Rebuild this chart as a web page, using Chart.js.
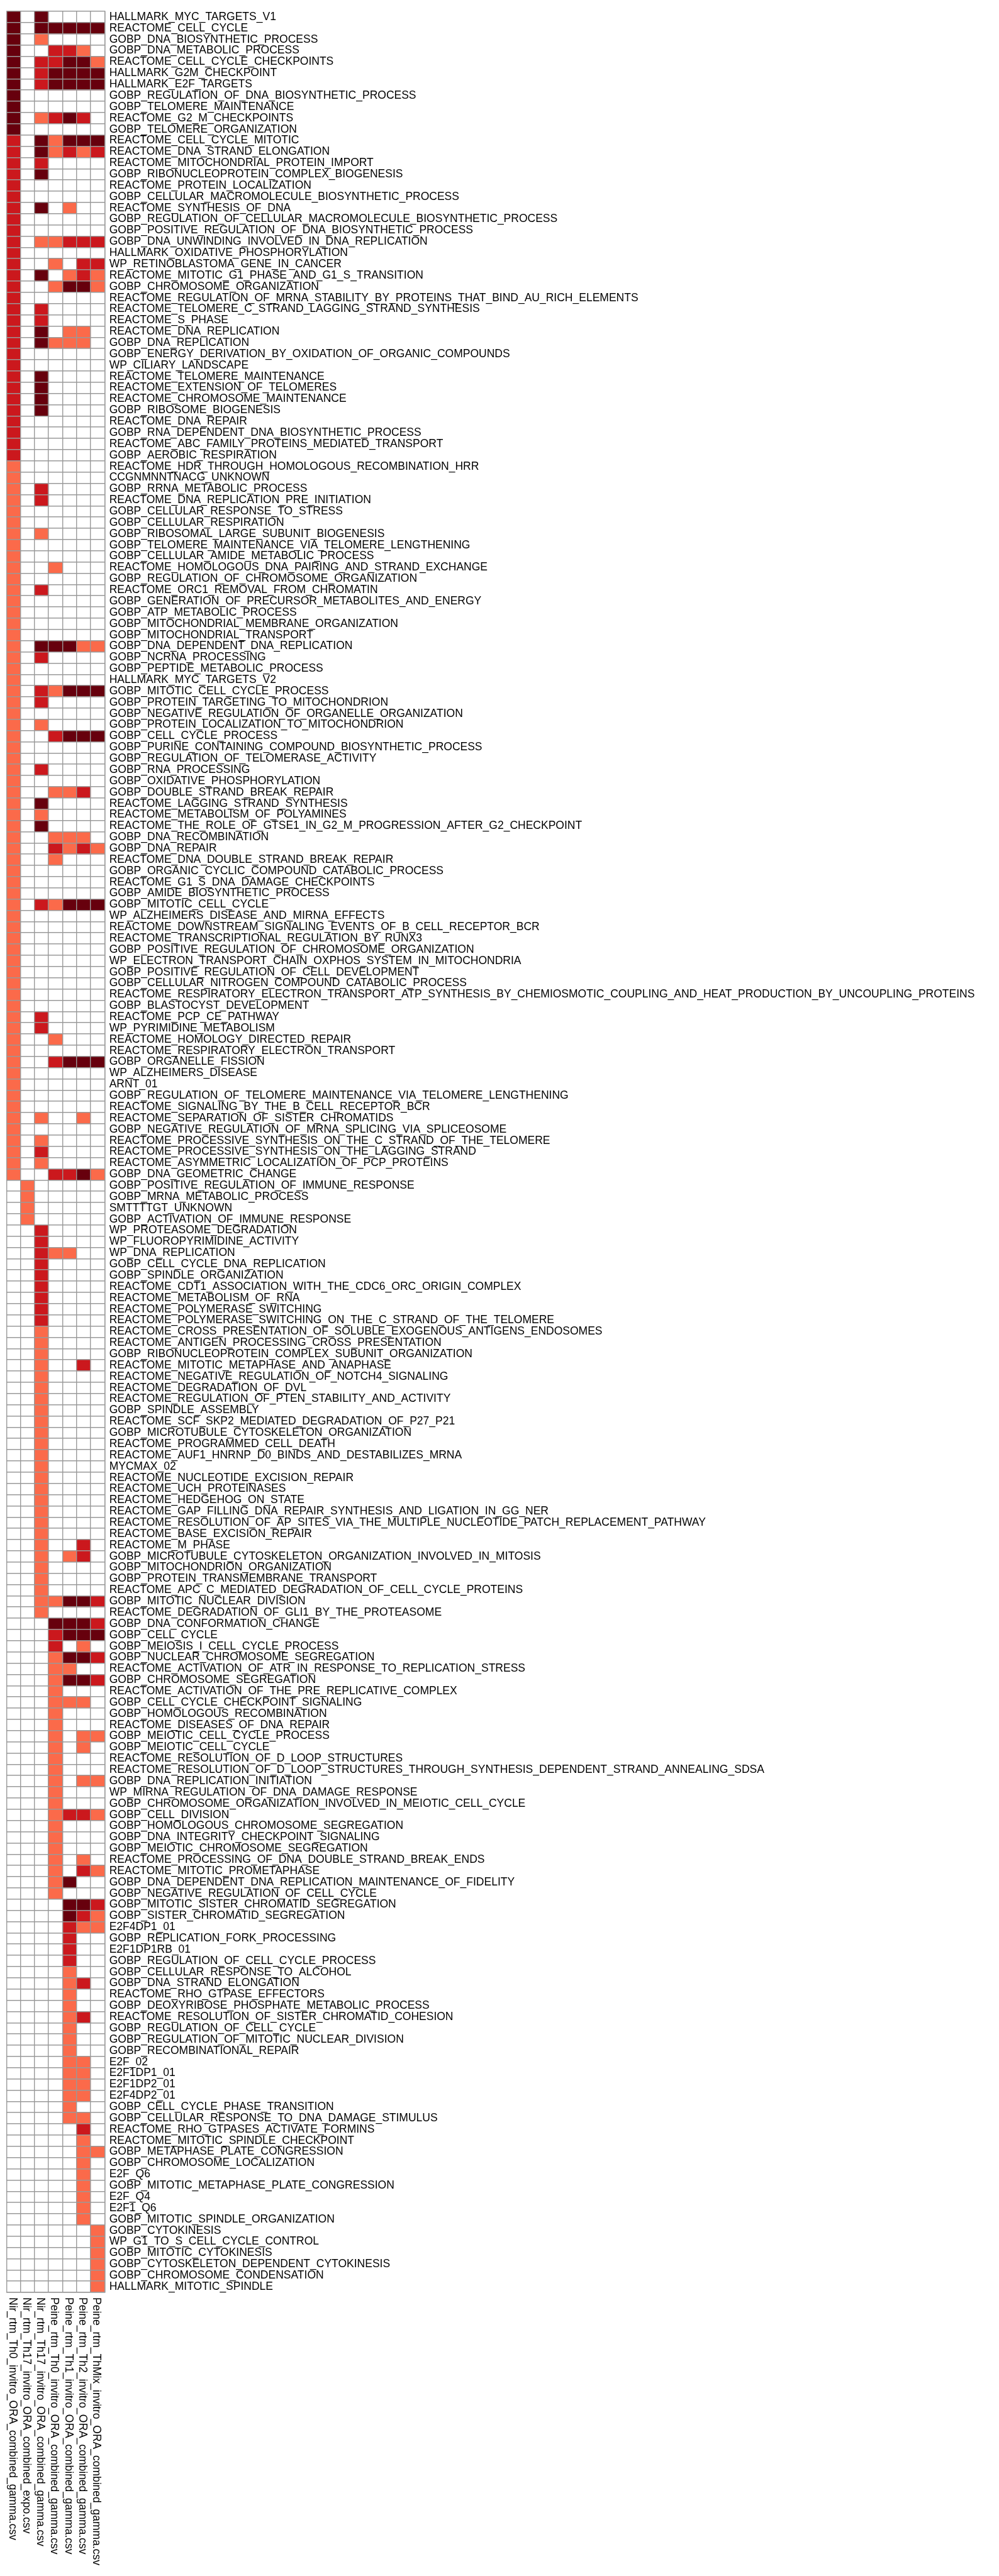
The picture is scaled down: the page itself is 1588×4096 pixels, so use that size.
<!DOCTYPE html>
<html>
<head>
<meta charset="utf-8">
<script src="https://cdn.jsdelivr.net/npm/chart.js@4.4.1/dist/chart.umd.min.js"></script>
<style>
  html, body { margin: 0; padding: 0; background: #fff; }
  canvas { display: block; }
</style>
</head>
<body>
<canvas id="heatmap" width="1588" height="4096"></canvas>
<script>
// Filas del heatmap (de arriba hacia abajo)
const pathways = [
  'HALLMARK_MYC_TARGETS_V1', 'REACTOME_CELL_CYCLE', 'GOBP_DNA_BIOSYNTHETIC_PROCESS', 'GOBP_DNA_METABOLIC_PROCESS',
  'REACTOME_CELL_CYCLE_CHECKPOINTS', 'HALLMARK_G2M_CHECKPOINT', 'HALLMARK_E2F_TARGETS', 'GOBP_REGULATION_OF_DNA_BIOSYNTHETIC_PROCESS',
  'GOBP_TELOMERE_MAINTENANCE', 'REACTOME_G2_M_CHECKPOINTS', 'GOBP_TELOMERE_ORGANIZATION', 'REACTOME_CELL_CYCLE_MITOTIC',
  'REACTOME_DNA_STRAND_ELONGATION', 'REACTOME_MITOCHONDRIAL_PROTEIN_IMPORT', 'GOBP_RIBONUCLEOPROTEIN_COMPLEX_BIOGENESIS',
  'REACTOME_PROTEIN_LOCALIZATION', 'GOBP_CELLULAR_MACROMOLECULE_BIOSYNTHETIC_PROCESS', 'REACTOME_SYNTHESIS_OF_DNA',
  'GOBP_REGULATION_OF_CELLULAR_MACROMOLECULE_BIOSYNTHETIC_PROCESS', 'GOBP_POSITIVE_REGULATION_OF_DNA_BIOSYNTHETIC_PROCESS',
  'GOBP_DNA_UNWINDING_INVOLVED_IN_DNA_REPLICATION', 'HALLMARK_OXIDATIVE_PHOSPHORYLATION', 'WP_RETINOBLASTOMA_GENE_IN_CANCER',
  'REACTOME_MITOTIC_G1_PHASE_AND_G1_S_TRANSITION', 'GOBP_CHROMOSOME_ORGANIZATION',
  'REACTOME_REGULATION_OF_MRNA_STABILITY_BY_PROTEINS_THAT_BIND_AU_RICH_ELEMENTS', 'REACTOME_TELOMERE_C_STRAND_LAGGING_STRAND_SYNTHESIS',
  'REACTOME_S_PHASE', 'REACTOME_DNA_REPLICATION', 'GOBP_DNA_REPLICATION', 'GOBP_ENERGY_DERIVATION_BY_OXIDATION_OF_ORGANIC_COMPOUNDS',
  'WP_CILIARY_LANDSCAPE', 'REACTOME_TELOMERE_MAINTENANCE', 'REACTOME_EXTENSION_OF_TELOMERES', 'REACTOME_CHROMOSOME_MAINTENANCE',
  'GOBP_RIBOSOME_BIOGENESIS', 'REACTOME_DNA_REPAIR', 'GOBP_RNA_DEPENDENT_DNA_BIOSYNTHETIC_PROCESS',
  'REACTOME_ABC_FAMILY_PROTEINS_MEDIATED_TRANSPORT', 'GOBP_AEROBIC_RESPIRATION', 'REACTOME_HDR_THROUGH_HOMOLOGOUS_RECOMBINATION_HRR',
  'CCGNMNNTNACG_UNKNOWN', 'GOBP_RRNA_METABOLIC_PROCESS', 'REACTOME_DNA_REPLICATION_PRE_INITIATION', 'GOBP_CELLULAR_RESPONSE_TO_STRESS',
  'GOBP_CELLULAR_RESPIRATION', 'GOBP_RIBOSOMAL_LARGE_SUBUNIT_BIOGENESIS', 'GOBP_TELOMERE_MAINTENANCE_VIA_TELOMERE_LENGTHENING',
  'GOBP_CELLULAR_AMIDE_METABOLIC_PROCESS', 'REACTOME_HOMOLOGOUS_DNA_PAIRING_AND_STRAND_EXCHANGE', 'GOBP_REGULATION_OF_CHROMOSOME_ORGANIZATION',
  'REACTOME_ORC1_REMOVAL_FROM_CHROMATIN', 'GOBP_GENERATION_OF_PRECURSOR_METABOLITES_AND_ENERGY', 'GOBP_ATP_METABOLIC_PROCESS',
  'GOBP_MITOCHONDRIAL_MEMBRANE_ORGANIZATION', 'GOBP_MITOCHONDRIAL_TRANSPORT', 'GOBP_DNA_DEPENDENT_DNA_REPLICATION', 'GOBP_NCRNA_PROCESSING',
  'GOBP_PEPTIDE_METABOLIC_PROCESS', 'HALLMARK_MYC_TARGETS_V2', 'GOBP_MITOTIC_CELL_CYCLE_PROCESS', 'GOBP_PROTEIN_TARGETING_TO_MITOCHONDRION',
  'GOBP_NEGATIVE_REGULATION_OF_ORGANELLE_ORGANIZATION', 'GOBP_PROTEIN_LOCALIZATION_TO_MITOCHONDRION', 'GOBP_CELL_CYCLE_PROCESS',
  'GOBP_PURINE_CONTAINING_COMPOUND_BIOSYNTHETIC_PROCESS', 'GOBP_REGULATION_OF_TELOMERASE_ACTIVITY', 'GOBP_RNA_PROCESSING',
  'GOBP_OXIDATIVE_PHOSPHORYLATION', 'GOBP_DOUBLE_STRAND_BREAK_REPAIR', 'REACTOME_LAGGING_STRAND_SYNTHESIS', 'REACTOME_METABOLISM_OF_POLYAMINES',
  'REACTOME_THE_ROLE_OF_GTSE1_IN_G2_M_PROGRESSION_AFTER_G2_CHECKPOINT', 'GOBP_DNA_RECOMBINATION', 'GOBP_DNA_REPAIR',
  'REACTOME_DNA_DOUBLE_STRAND_BREAK_REPAIR', 'GOBP_ORGANIC_CYCLIC_COMPOUND_CATABOLIC_PROCESS', 'REACTOME_G1_S_DNA_DAMAGE_CHECKPOINTS',
  'GOBP_AMIDE_BIOSYNTHETIC_PROCESS', 'GOBP_MITOTIC_CELL_CYCLE', 'WP_ALZHEIMERS_DISEASE_AND_MIRNA_EFFECTS',
  'REACTOME_DOWNSTREAM_SIGNALING_EVENTS_OF_B_CELL_RECEPTOR_BCR', 'REACTOME_TRANSCRIPTIONAL_REGULATION_BY_RUNX3',
  'GOBP_POSITIVE_REGULATION_OF_CHROMOSOME_ORGANIZATION', 'WP_ELECTRON_TRANSPORT_CHAIN_OXPHOS_SYSTEM_IN_MITOCHONDRIA',
  'GOBP_POSITIVE_REGULATION_OF_CELL_DEVELOPMENT', 'GOBP_CELLULAR_NITROGEN_COMPOUND_CATABOLIC_PROCESS',
  'REACTOME_RESPIRATORY_ELECTRON_TRANSPORT_ATP_SYNTHESIS_BY_CHEMIOSMOTIC_COUPLING_AND_HEAT_PRODUCTION_BY_UNCOUPLING_PROTEINS',
  'GOBP_BLASTOCYST_DEVELOPMENT', 'REACTOME_PCP_CE_PATHWAY', 'WP_PYRIMIDINE_METABOLISM', 'REACTOME_HOMOLOGY_DIRECTED_REPAIR',
  'REACTOME_RESPIRATORY_ELECTRON_TRANSPORT', 'GOBP_ORGANELLE_FISSION', 'WP_ALZHEIMERS_DISEASE', 'ARNT_01',
  'GOBP_REGULATION_OF_TELOMERE_MAINTENANCE_VIA_TELOMERE_LENGTHENING', 'REACTOME_SIGNALING_BY_THE_B_CELL_RECEPTOR_BCR',
  'REACTOME_SEPARATION_OF_SISTER_CHROMATIDS', 'GOBP_NEGATIVE_REGULATION_OF_MRNA_SPLICING_VIA_SPLICEOSOME',
  'REACTOME_PROCESSIVE_SYNTHESIS_ON_THE_C_STRAND_OF_THE_TELOMERE', 'REACTOME_PROCESSIVE_SYNTHESIS_ON_THE_LAGGING_STRAND',
  'REACTOME_ASYMMETRIC_LOCALIZATION_OF_PCP_PROTEINS', 'GOBP_DNA_GEOMETRIC_CHANGE', 'GOBP_POSITIVE_REGULATION_OF_IMMUNE_RESPONSE',
  'GOBP_MRNA_METABOLIC_PROCESS', 'SMTTTTGT_UNKNOWN', 'GOBP_ACTIVATION_OF_IMMUNE_RESPONSE', 'WP_PROTEASOME_DEGRADATION',
  'WP_FLUOROPYRIMIDINE_ACTIVITY', 'WP_DNA_REPLICATION', 'GOBP_CELL_CYCLE_DNA_REPLICATION', 'GOBP_SPINDLE_ORGANIZATION',
  'REACTOME_CDT1_ASSOCIATION_WITH_THE_CDC6_ORC_ORIGIN_COMPLEX', 'REACTOME_METABOLISM_OF_RNA', 'REACTOME_POLYMERASE_SWITCHING',
  'REACTOME_POLYMERASE_SWITCHING_ON_THE_C_STRAND_OF_THE_TELOMERE', 'REACTOME_CROSS_PRESENTATION_OF_SOLUBLE_EXOGENOUS_ANTIGENS_ENDOSOMES',
  'REACTOME_ANTIGEN_PROCESSING_CROSS_PRESENTATION', 'GOBP_RIBONUCLEOPROTEIN_COMPLEX_SUBUNIT_ORGANIZATION',
  'REACTOME_MITOTIC_METAPHASE_AND_ANAPHASE', 'REACTOME_NEGATIVE_REGULATION_OF_NOTCH4_SIGNALING', 'REACTOME_DEGRADATION_OF_DVL',
  'REACTOME_REGULATION_OF_PTEN_STABILITY_AND_ACTIVITY', 'GOBP_SPINDLE_ASSEMBLY', 'REACTOME_SCF_SKP2_MEDIATED_DEGRADATION_OF_P27_P21',
  'GOBP_MICROTUBULE_CYTOSKELETON_ORGANIZATION', 'REACTOME_PROGRAMMED_CELL_DEATH', 'REACTOME_AUF1_HNRNP_D0_BINDS_AND_DESTABILIZES_MRNA',
  'MYCMAX_02', 'REACTOME_NUCLEOTIDE_EXCISION_REPAIR', 'REACTOME_UCH_PROTEINASES', 'REACTOME_HEDGEHOG_ON_STATE',
  'REACTOME_GAP_FILLING_DNA_REPAIR_SYNTHESIS_AND_LIGATION_IN_GG_NER',
  'REACTOME_RESOLUTION_OF_AP_SITES_VIA_THE_MULTIPLE_NUCLEOTIDE_PATCH_REPLACEMENT_PATHWAY', 'REACTOME_BASE_EXCISION_REPAIR',
  'REACTOME_M_PHASE', 'GOBP_MICROTUBULE_CYTOSKELETON_ORGANIZATION_INVOLVED_IN_MITOSIS', 'GOBP_MITOCHONDRION_ORGANIZATION',
  'GOBP_PROTEIN_TRANSMEMBRANE_TRANSPORT', 'REACTOME_APC_C_MEDIATED_DEGRADATION_OF_CELL_CYCLE_PROTEINS', 'GOBP_MITOTIC_NUCLEAR_DIVISION',
  'REACTOME_DEGRADATION_OF_GLI1_BY_THE_PROTEASOME', 'GOBP_DNA_CONFORMATION_CHANGE', 'GOBP_CELL_CYCLE', 'GOBP_MEIOSIS_I_CELL_CYCLE_PROCESS',
  'GOBP_NUCLEAR_CHROMOSOME_SEGREGATION', 'REACTOME_ACTIVATION_OF_ATR_IN_RESPONSE_TO_REPLICATION_STRESS', 'GOBP_CHROMOSOME_SEGREGATION',
  'REACTOME_ACTIVATION_OF_THE_PRE_REPLICATIVE_COMPLEX', 'GOBP_CELL_CYCLE_CHECKPOINT_SIGNALING', 'GOBP_HOMOLOGOUS_RECOMBINATION',
  'REACTOME_DISEASES_OF_DNA_REPAIR', 'GOBP_MEIOTIC_CELL_CYCLE_PROCESS', 'GOBP_MEIOTIC_CELL_CYCLE', 'REACTOME_RESOLUTION_OF_D_LOOP_STRUCTURES',
  'REACTOME_RESOLUTION_OF_D_LOOP_STRUCTURES_THROUGH_SYNTHESIS_DEPENDENT_STRAND_ANNEALING_SDSA', 'GOBP_DNA_REPLICATION_INITIATION',
  'WP_MIRNA_REGULATION_OF_DNA_DAMAGE_RESPONSE', 'GOBP_CHROMOSOME_ORGANIZATION_INVOLVED_IN_MEIOTIC_CELL_CYCLE', 'GOBP_CELL_DIVISION',
  'GOBP_HOMOLOGOUS_CHROMOSOME_SEGREGATION', 'GOBP_DNA_INTEGRITY_CHECKPOINT_SIGNALING', 'GOBP_MEIOTIC_CHROMOSOME_SEGREGATION',
  'REACTOME_PROCESSING_OF_DNA_DOUBLE_STRAND_BREAK_ENDS', 'REACTOME_MITOTIC_PROMETAPHASE',
  'GOBP_DNA_DEPENDENT_DNA_REPLICATION_MAINTENANCE_OF_FIDELITY', 'GOBP_NEGATIVE_REGULATION_OF_CELL_CYCLE',
  'GOBP_MITOTIC_SISTER_CHROMATID_SEGREGATION', 'GOBP_SISTER_CHROMATID_SEGREGATION', 'E2F4DP1_01', 'GOBP_REPLICATION_FORK_PROCESSING',
  'E2F1DP1RB_01', 'GOBP_REGULATION_OF_CELL_CYCLE_PROCESS', 'GOBP_CELLULAR_RESPONSE_TO_ALCOHOL', 'GOBP_DNA_STRAND_ELONGATION',
  'REACTOME_RHO_GTPASE_EFFECTORS', 'GOBP_DEOXYRIBOSE_PHOSPHATE_METABOLIC_PROCESS', 'REACTOME_RESOLUTION_OF_SISTER_CHROMATID_COHESION',
  'GOBP_REGULATION_OF_CELL_CYCLE', 'GOBP_REGULATION_OF_MITOTIC_NUCLEAR_DIVISION', 'GOBP_RECOMBINATIONAL_REPAIR', 'E2F_02',
  'E2F1DP1_01', 'E2F1DP2_01', 'E2F4DP2_01', 'GOBP_CELL_CYCLE_PHASE_TRANSITION', 'GOBP_CELLULAR_RESPONSE_TO_DNA_DAMAGE_STIMULUS',
  'REACTOME_RHO_GTPASES_ACTIVATE_FORMINS', 'REACTOME_MITOTIC_SPINDLE_CHECKPOINT', 'GOBP_METAPHASE_PLATE_CONGRESSION',
  'GOBP_CHROMOSOME_LOCALIZATION', 'E2F_Q6', 'GOBP_MITOTIC_METAPHASE_PLATE_CONGRESSION', 'E2F_Q4', 'E2F1_Q6',
  'GOBP_MITOTIC_SPINDLE_ORGANIZATION', 'GOBP_CYTOKINESIS', 'WP_G1_TO_S_CELL_CYCLE_CONTROL', 'GOBP_MITOTIC_CYTOKINESIS',
  'GOBP_CYTOSKELETON_DEPENDENT_CYTOKINESIS', 'GOBP_CHROMOSOME_CONDENSATION', 'HALLMARK_MITOTIC_SPINDLE',
];

// Columnas (archivos)
const columns = [
  'Nir_rtm_Th0_invitro_ORA_combined_gamma.csv',
  'Nir_rtm_Th17_invitro_ORA_combined_expo.csv',
  'Nir_rtm_Th17_invitro_ORA_combined_gamma.csv',
  'Peine_rtm_Th0_invitro_ORA_combined_gamma.csv',
  'Peine_rtm_Th1_invitro_ORA_combined_gamma.csv',
  'Peine_rtm_Th2_invitro_ORA_combined_gamma.csv',
  'Peine_rtm_ThMix_invitro_ORA_combined_gamma.csv',
];

// Nivel por celda: 0 = vacio, 1 = claro, 2 = medio, 3 = oscuro
const nirTh0Gamma = [
  3,3,3,3,3,3,3,3,3,3, 3,2,2,2,2,2,2,2,2,2, 2,2,2,2,2,2,2,2,2,2, 2,2,2,2,2,2,2,2,2,2,
  1,1,1,1,1,1,1,1,1,1, 1,1,1,1,1,1,1,1,1,1, 1,1,1,1,1,1,1,1,1,1, 1,1,1,1,1,1,1,1,1,1,
  1,1,1,1,1,1,1,1,1,1, 1,1,1,1,1,1,1,1,1,1, 1,1,1,1,0,0,0,0,0,0, 0,0,0,0,0,0,0,0,0,0,
  0,0,0,0,0,0,0,0,0,0, 0,0,0,0,0,0,0,0,0,0, 0,0,0,0,0,0,0,0,0,0, 0,0,0,0,0,0,0,0,0,0,
  0,0,0,0,0,0,0,0,0,0, 0,0,0,0,0,0,0,0,0,0, 0,0,0,0,0,0,0,0,0,0, 0,0,0,0,0,0,0,0,0,0,
  0,0,0,
];
const nirTh17Expo = [
  0,0,0,0,0,0,0,0,0,0, 0,0,0,0,0,0,0,0,0,0, 0,0,0,0,0,0,0,0,0,0, 0,0,0,0,0,0,0,0,0,0,
  0,0,0,0,0,0,0,0,0,0, 0,0,0,0,0,0,0,0,0,0, 0,0,0,0,0,0,0,0,0,0, 0,0,0,0,0,0,0,0,0,0,
  0,0,0,0,0,0,0,0,0,0, 0,0,0,0,0,0,0,0,0,0, 0,0,0,0,1,1,1,1,0,0, 0,0,0,0,0,0,0,0,0,0,
  0,0,0,0,0,0,0,0,0,0, 0,0,0,0,0,0,0,0,0,0, 0,0,0,0,0,0,0,0,0,0, 0,0,0,0,0,0,0,0,0,0,
  0,0,0,0,0,0,0,0,0,0, 0,0,0,0,0,0,0,0,0,0, 0,0,0,0,0,0,0,0,0,0, 0,0,0,0,0,0,0,0,0,0,
  0,0,0,
];
const nirTh17Gamma = [
  3,3,1,0,2,2,2,0,0,1, 0,3,3,2,3,0,0,3,0,0, 1,0,0,3,0,0,2,2,3,3, 0,0,3,3,3,3,0,0,0,0,
  0,0,2,2,0,0,1,0,0,0, 0,2,0,0,0,0,3,2,0,0, 2,2,0,1,0,0,0,2,0,0, 3,1,3,0,0,0,0,0,0,2,
  0,0,0,0,0,0,0,0,0,2, 2,0,0,0,0,0,0,0,1,0, 1,2,1,0,0,0,0,0,2,2, 2,2,2,2,2,2,2,1,1,1,
  1,1,1,1,1,1,1,1,1,1, 1,1,1,1,1,1,1,1,1,1, 1,1,1,0,0,0,0,0,0,0, 0,0,0,0,0,0,0,0,0,0,
  0,0,0,0,0,0,0,0,0,0, 0,0,0,0,0,0,0,0,0,0, 0,0,0,0,0,0,0,0,0,0, 0,0,0,0,0,0,0,0,0,0,
  0,0,0,
];
const peineTh0Gamma = [
  0,3,0,2,2,3,3,0,0,2, 0,1,1,0,0,0,0,0,0,0, 1,0,1,0,1,0,0,0,0,1, 0,0,0,0,0,0,0,0,0,0,
  0,0,0,0,0,0,0,0,0,1, 0,0,0,0,0,0,3,0,0,0, 1,0,0,0,2,0,0,0,0,1, 0,0,0,1,2,1,0,0,0,1,
  0,0,0,0,0,0,0,0,0,0, 0,1,0,2,0,0,0,0,0,0, 0,0,0,2,0,0,0,0,0,0, 1,0,0,0,0,0,0,0,0,0,
  0,0,0,0,0,0,0,0,0,0, 0,0,0,0,0,0,0,0,0,0, 0,1,0,3,2,2,1,1,1,1, 1,1,1,1,1,1,1,1,1,1,
  1,1,1,1,1,1,1,1,0,0, 0,0,0,0,0,0,0,0,0,0, 0,0,0,0,0,0,0,0,0,0, 0,0,0,0,0,0,0,0,0,0,
  0,0,0,
];
const peineTh1Gamma = [
  0,3,0,2,3,3,3,0,0,3, 0,3,2,0,0,0,0,1,0,0, 2,0,0,1,3,0,0,0,1,1, 0,0,0,0,0,0,0,0,0,0,
  0,0,0,0,0,0,0,0,0,0, 0,0,0,0,0,0,3,0,0,0, 3,0,0,0,3,0,0,0,0,1, 0,0,0,1,1,0,0,0,0,3,
  0,0,0,0,0,0,0,0,0,0, 0,0,0,3,0,0,0,0,0,0, 0,0,0,2,0,0,0,0,0,0, 1,0,0,0,0,0,0,0,0,0,
  0,0,0,0,0,0,0,0,0,0, 0,0,0,0,0,0,0,1,0,0, 0,3,0,3,3,0,3,1,3,0, 1,0,0,0,0,0,0,0,0,0,
  2,0,0,0,0,0,3,0,3,3, 2,2,2,2,1,1,1,1,1,1, 1,1,1,1,1,1,1,1,0,0, 0,0,0,0,0,0,0,0,0,0,
  0,0,0,
];
const peineTh2Gamma = [
  0,3,0,1,3,3,3,0,0,2, 0,3,1,0,0,0,0,0,0,0, 2,0,2,2,3,0,0,0,1,1, 0,0,0,0,0,0,0,0,0,0,
  0,0,0,0,0,0,0,0,0,0, 0,0,0,0,0,0,1,0,0,0, 3,0,0,0,3,0,0,0,0,2, 0,0,0,1,2,0,0,0,0,3,
  0,0,0,0,0,0,0,0,0,0, 0,0,0,3,0,0,0,0,1,0, 0,0,0,3,0,0,0,0,0,0, 0,0,0,0,0,0,0,0,0,0,
  2,0,0,0,0,0,0,0,0,0, 0,0,0,0,0,0,2,2,0,0, 0,3,0,3,3,1,3,0,3,0, 1,0,0,1,1,0,0,1,0,0,
  2,0,0,0,1,2,0,0,3,2, 1,0,0,0,0,2,0,0,2,0, 0,0,1,1,1,1,0,1,2,1, 1,1,1,1,1,1,1,0,0,0,
  0,0,0,
];
const peineThMixGamma = [
  0,3,0,0,1,3,3,0,0,0, 0,3,2,0,0,0,0,0,0,0, 2,0,2,1,1,0,0,0,0,0, 0,0,0,0,0,0,0,0,0,0,
  0,0,0,0,0,0,0,0,0,0, 0,0,0,0,0,0,1,0,0,0, 3,0,0,0,3,0,0,0,0,0, 0,0,0,0,1,0,0,0,0,3,
  0,0,0,0,0,0,0,0,0,0, 0,0,0,3,0,0,0,0,0,0, 0,0,0,1,0,0,0,0,0,0, 0,0,0,0,0,0,0,0,0,0,
  0,0,0,0,0,0,0,0,0,0, 0,0,0,0,0,0,0,0,0,0, 0,2,0,2,3,0,2,0,2,0, 0,0,0,1,0,0,0,1,0,0,
  1,0,0,0,0,1,0,0,2,1, 1,0,0,0,0,0,0,0,0,0, 0,0,0,0,0,0,0,0,0,0, 1,0,0,0,0,0,0,1,1,1,
  1,1,1,
];

const series = [nirTh0Gamma, nirTh17Expo, nirTh17Gamma, peineTh0Gamma, peineTh1Gamma, peineTh2Gamma, peineThMixGamma];

const LEVEL_COLORS = [null, '#FB6A4A', '#CB181D', '#67000D'];
const BORDER = '#999999';
const FONT = '"Liberation Sans", Arial, Helvetica, sans-serif';

const W = 1588;
const H = 4096;
const PLOT_LEFT = 10.2;
const PLOT_RIGHT = 166.2;
const PLOT_TOP = 18.1;
const PLOT_BOTTOM = 3645;

// Etiquetas de columna giradas (de arriba hacia abajo), como en pheatmap
const columnLabels = {
    id: 'columnLabels',
    afterDraw(chart) {
        const { ctx, chartArea, scales } = chart;
        ctx.save();
        ctx.font = `17.5px ${FONT}`;
        ctx.fillStyle = '#000';
        ctx.textAlign = 'left';
        ctx.textBaseline = 'middle';
        columns.forEach((name, c) => {
            const px = scales.x.getPixelForValue(c + 0.5) - 2;
            ctx.save();
            ctx.translate(px, chartArea.bottom + 8);
            ctx.rotate(Math.PI / 2);
            ctx.fillText(name, 0, 0);
            ctx.restore();
        });
        ctx.restore();
    },
};

new Chart(document.getElementById('heatmap'), {
    type: 'bar',
    data: {
        labels: pathways,
        datasets: series.map((vals, c) => ({
            label: columns[c],
            data: vals.map((v) => (v ? [c, c + 1] : null)),
            backgroundColor: vals.map((v) => LEVEL_COLORS[v] ?? 'rgba(0,0,0,0)'),
            borderWidth: 0,
            grouped: false,
            barPercentage: 1,
            categoryPercentage: 1,
        })),
    },
    options: {
        indexAxis: 'y',
        responsive: false,
        animation: false,
        devicePixelRatio: 1,
        events: [],
        layout: { padding: { left: PLOT_LEFT, top: PLOT_TOP, right: 0, bottom: 0 } },
        plugins: { legend: { display: false }, tooltip: { enabled: false } },
        scales: {
            x: {
                type: 'linear',
                position: 'bottom',
                min: 0,
                max: columns.length,
                ticks: { display: false, stepSize: 1 },
                grid: { color: BORDER, lineWidth: 1.4, drawTicks: false, z: 1 },
                border: { display: true, color: BORDER, width: 1.4, z: 1 },
                afterFit: (scale) => { scale.height = H - PLOT_BOTTOM; },
            },
            y: {
                type: 'category',
                position: 'right',
                offset: true,
                ticks: {
                    autoSkip: false,
                    padding: 7.5,
                    color: '#000',
                    font: { family: FONT, size: 17.5 },
                },
                grid: { offset: true, color: BORDER, lineWidth: 1.4, drawTicks: false, z: 1 },
                border: { display: true, color: BORDER, width: 1.4, z: 1 },
                afterFit: (scale) => { scale.width = W - PLOT_RIGHT; },
            },
        },
    },
    plugins: [columnLabels],
});
</script>
</body>
</html>
